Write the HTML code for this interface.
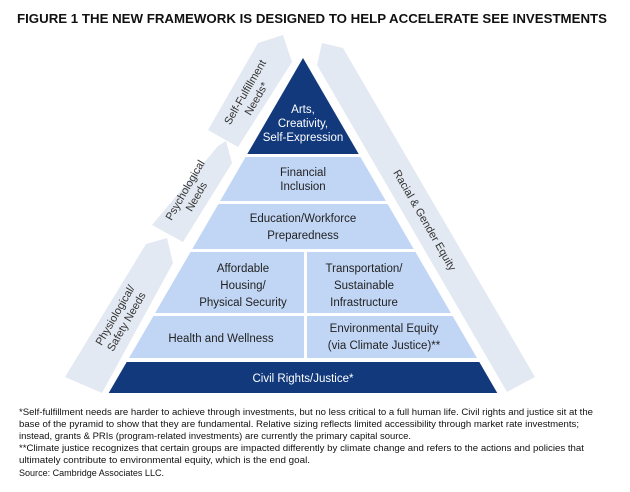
<!DOCTYPE html>
<html><head><meta charset="utf-8"><style>
body{margin:0;background:#fff;}
svg{display:block;font-family:"Liberation Sans",sans-serif;}
</style></head><body>
<svg width="630" height="492" viewBox="0 0 630 492" xmlns="http://www.w3.org/2000/svg">
<text x="17" y="23" font-size="13" font-weight="bold" fill="#111" textLength="590" lengthAdjust="spacingAndGlyphs">FIGURE 1   THE NEW FRAMEWORK IS DESIGNED TO HELP ACCELERATE SEE INVESTMENTS</text>
<polygon points="208,130 258,43 283,35 292,62 238,147" fill="#e3e9f2"/>
<polygon points="152,225 218,146 226,141 232,163 183,242" fill="#e3e9f2"/>
<polygon points="65,377 146,244 167,238 173,263 102,393" fill="#e3e9f2"/>
<polygon points="317,65 322,43 343,48 535,377 507,392" fill="#e3e9f2"/>
<polygon points="303,58 358.7,154 247.3,154" fill="#11397c"/>
<polygon points="245.6,157 360.4,157 385.9,201 220.1,201" fill="#c1d6f5"/>
<polygon points="218.4,204 387.6,204 413.7,249 192.3,249" fill="#c1d6f5"/>
<polygon points="190.5,252 304,252 304,313 155.1,313" fill="#c1d6f5"/>
<polygon points="307,252 415.5,252 450.9,313 307,313" fill="#c1d6f5"/>
<polygon points="153.4,316 304,316 304,358 129,358" fill="#c1d6f5"/>
<polygon points="307,316 452.6,316 477,358 307,358" fill="#c1d6f5"/>
<polygon points="126.7,362 479.3,362 497.3,393 108.7,393" fill="#11397c"/>
<g font-size="11.5" text-anchor="middle" fill="#fff">
<text x="303" y="113">Arts,</text>
<text x="303" y="127">Creativity,</text>
<text x="303" y="141">Self-Expression</text>
<text x="303" y="382">Civil Rights/Justice*</text>
</g>
<g font-size="11.5" text-anchor="middle" fill="#222">
<text x="303" y="176">Financial</text>
<text x="303" y="190">Inclusion</text>
<text x="303" y="222">Education/Workforce</text>
<text x="303" y="239">Preparedness</text>
<text x="243" y="272">Affordable</text>
<text x="243" y="289">Housing/</text>
<text x="243" y="306">Physical Security</text>
<text x="364" y="272">Transportation/</text>
<text x="364" y="289">Sustainable</text>
<text x="364" y="306">Infrastructure</text>
<text x="221" y="342">Health and Wellness</text>
<text x="384" y="332">Environmental Equity</text>
<text x="384" y="349">(via Climate Justice)**</text>
</g>
<g font-size="11" text-anchor="middle" fill="#333">
<g transform="translate(250,95) rotate(-60)"><text x="0" y="-2">Self-Fulfillment</text><text x="0" y="11">Needs*</text></g>
<g transform="translate(190,193) rotate(-60)"><text x="0" y="-2">Psychological</text><text x="0" y="11">Needs</text></g>
<g transform="translate(120,318) rotate(-60)"><text x="0" y="-2">Physiological/</text><text x="0" y="11">Safety Needs</text></g>
<g transform="translate(425,220) rotate(60)"><text x="0" y="4">Racial &amp; Gender Equity</text></g>
</g>
<g font-size="8.8" fill="#111">
<text x="19" y="415" textLength="574" lengthAdjust="spacingAndGlyphs">*Self-fulfillment needs are harder to achieve through investments, but no less critical to a full human life. Civil rights and justice sit at the</text>
<text x="19" y="427" textLength="560" lengthAdjust="spacingAndGlyphs">base of the pyramid to show that they are fundamental. Relative sizing reflects limited accessibility through market rate investments;</text>
<text x="19" y="439" textLength="392" lengthAdjust="spacingAndGlyphs">instead, grants &amp; PRIs (program-related investments) are currently the primary capital source.</text>
<text x="19" y="451" textLength="565" lengthAdjust="spacingAndGlyphs">**Climate justice recognizes that certain groups are impacted differently by climate change and refers to the actions and policies that</text>
<text x="19" y="463" textLength="291" lengthAdjust="spacingAndGlyphs">ultimately contribute to environmental equity, which is the end goal.</text>
<text x="19" y="476" textLength="145" lengthAdjust="spacingAndGlyphs">Source: Cambridge Associates LLC.</text>
</g>
</svg>
</body></html>
